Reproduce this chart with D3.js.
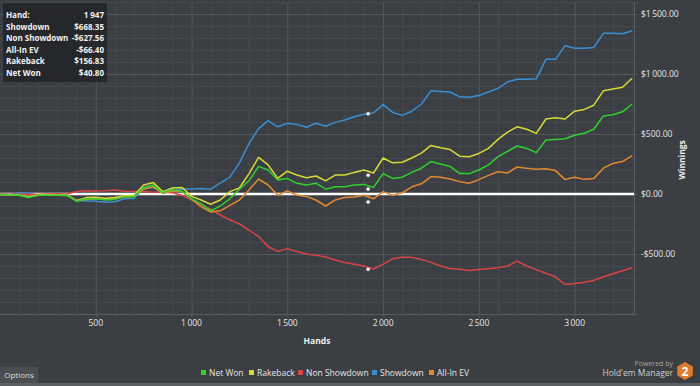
<!DOCTYPE html>
<html>
<head>
<meta charset="utf-8">
<script src="https://cdn.jsdelivr.net/npm/d3@7"></script>
<style>
  html, body { margin: 0; padding: 0; background: #3b3e42; }
  svg { display: block; font-family: 'Open Sans', sans-serif; }
</style>
</head>
<body>
<svg id="chart" width="700" height="386"></svg>
<script>
// DATA
var hands = [0, 50, 100, 150, 200, 250, 300, 350, 400, 450, 500, 550, 600, 650, 700, 750, 800, 850, 900, 950,
             1000, 1050, 1100, 1150, 1200, 1250, 1300, 1350, 1400, 1450, 1500, 1550, 1600, 1650, 1700, 1750, 1800, 1850, 1900, 1950,
             2000, 2050, 2100, 2150, 2200, 2250, 2300, 2350, 2400, 2450, 2500, 2550, 2600, 2650, 2700, 2750, 2800, 2850, 2900, 2950,
             3000, 3050, 3100, 3150, 3200, 3250, 3300];

var netWon = [-5, -8, -10, -30, -10, -10, -10, -12, -60, -40, -40, -50, -45, -22, -20, 55, 75, 10, 35, 25,
              -40, -80, -140, -100, -40, 40, 110, 230, 200, 117, 130, 89, 75, 90, 40, 61, 61, 75, 80, 55,
              170, 130, 140, 180, 215, 270, 250, 230, 170, 170, 200, 242, 311, 355, 400, 380, 345, 450, 455, 460,
              490, 506, 540, 650, 660, 685, 750];

var rakeback = [-5, -7, -8, -25, -8, -8, -8, -10, -55, -30, -28, -35, -30, -15, -10, 75, 95, 20, 50, 55,
                -20, -50, -85, -50, 20, 50, 170, 305, 242, 130, 190, 158, 135, 150, 110, 158, 158, 180, 200, 175,
                300, 260, 265, 300, 340, 405, 385, 370, 315, 310, 338, 380, 455, 515, 560, 540, 505, 625, 635, 625,
                690, 705, 740, 860, 875, 890, 965];

var nonShowdown = [0, -3, -2, -5, -3, 0, 2, 0, 20, 28, 25, 28, 33, 22, 20, 20, 15, 15, 10, -10,
                   -50, -95, -125, -175, -215, -250, -300, -355, -440, -478, -455, -480, -500, -510, -525, -550, -570, -585, -600, -625,
                   -585, -540, -528, -528, -545, -570, -600, -620, -628, -638, -630, -622, -615, -600, -560, -600, -630, -660, -690, -755,
                   -745, -735, -720, -690, -665, -640, -615];

var showdown = [0, -5, 8, 5, -8, -8, -8, -10, -55, -58, -60, -68, -65, -40, -35, 45, 55, 10, 35, 42,
                42, 45, 40, 90, 140, 260, 420, 545, 611, 560, 589, 580, 556, 590, 565, 597, 617, 644, 665, 675,
                745, 680, 655, 690, 750, 860, 855, 850, 810, 806, 820, 850, 880, 935, 956, 956, 960, 1122, 1122, 1235,
                1215, 1214, 1220, 1339, 1339, 1335, 1360];

var allInEV = [-5, -8, -10, -20, -10, -10, -10, -12, -55, -45, -40, -45, -40, -25, -20, 40, 60, 5, 25, 20,
               -40, -105, -150, -140, -95, -50, 33, 125, 75, -10, 25, -8, -20, -50, -100, -50, -30, -25, -10, -40,
               20, -10, 10, 60, 85, 145, 140, 125, 103, 90, 120, 155, 185, 175, 225, 214, 206, 210, 195, 120,
               140, 122, 130, 215, 255, 270, 320];

var seriesNames = ['Net Won', 'Rakeback', 'Non Showdown', 'Showdown', 'All-In EV'];
var seriesColors = ['#2fd12f', '#d9d936', '#d94545', '#3a8fd3', '#e3892f'];
var seriesValues = [netWon, rakeback, nonShowdown, showdown, allInEV];

// hover tooltip
var tipHand = '1 947';
var tipLabels = ['Showdown', 'Non Showdown', 'All-In EV', 'Rakeback', 'Net Won'];
var tipValues = [668.35, -627.56, -66.40, 156.83, 40.80];
var markerHand = 1922;

var xTicks = [500, 1000, 1500, 2000, 2500, 3000];
var yTicks = [-500, 0, 500, 1000, 1500];

//.................................................................................................................//
// SETUP
var svg = d3.select('#chart');
var plotLeft = 0, plotTop = 2, plotRight = 634, plotBottom = 314;

var x = d3.scaleLinear().domain([0, 3310]).range([plotLeft, plotRight]);
var y = d3.scaleLinear().domain([-1000, 1600]).range([plotBottom, plotTop]);

var fmtNum = function(v) { return d3.format(',')(v).replace(/,/g, '\u2009'); };
var fmtMoney = function(v) {
    var s = d3.format(',.2f')(Math.abs(v)).replace(/,/g, '\u2009');
    return (v < 0 ? '-$' : '$') + s;
};

//.................................................................................................................//
// GRID
function drawGrid() {
    var g = svg.append('g');
    var xMinor = d3.range(100, 3310, 100);
    var yMinor = d3.range(-1000, 1601, 100);
    g.selectAll('line.vx').data(xMinor).enter().append('line')
        .attr('x1', d => x(d) + 0.5).attr('x2', d => x(d) + 0.5)
        .attr('y1', plotTop).attr('y2', plotBottom + 3)
        .style('stroke', d => d % 500 === 0 ? '#54575c' : '#45484c')
        .style('stroke-width', 1);
    g.selectAll('line.hy').data(yMinor).enter().append('line')
        .attr('x1', plotLeft).attr('x2', plotRight + 4)
        .attr('y1', d => Math.round(y(d)) + 0.5).attr('y2', d => Math.round(y(d)) + 0.5)
        .style('stroke', d => d % 500 === 0 ? '#54575c' : '#45484c')
        .style('stroke-width', 1);
    // border
    g.append('line').attr('x1', plotRight + 0.5).attr('x2', plotRight + 0.5)
        .attr('y1', plotTop).attr('y2', plotBottom)
        .style('stroke', '#595c61');
    g.append('line').attr('x1', plotLeft).attr('x2', plotRight)
        .attr('y1', plotBottom + 0.5).attr('y2', plotBottom + 0.5)
        .style('stroke', '#595c61');
}

//.................................................................................................................//
// AXES
function drawAxes() {
    svg.append('g').selectAll('text').data(xTicks).enter().append('text')
        .attr('x', d => x(d))
        .attr('y', 326)
        .attr('text-anchor', 'middle')
        .style('font-size', '8.5px')
        .style('fill', '#e6e6e6')
        .text(d => fmtNum(d));
    svg.append('g').selectAll('text').data(yTicks).enter().append('text')
        .attr('x', 641)
        .attr('y', d => y(d) + 3)
        .style('font-size', '8.5px')
        .style('fill', '#e6e6e6')
        .text(d => fmtMoney(d));
    svg.append('text')
        .attr('x', x(1655)).attr('y', 344)
        .attr('text-anchor', 'middle')
        .style('font-size', '8.5px').style('font-weight', 'bold')
        .style('fill', '#f0f0f0')
        .text('Hands');
    svg.append('text')
        .attr('transform', 'translate(685,' + y(285) + ') rotate(-90)')
        .attr('text-anchor', 'middle')
        .style('font-size', '8.5px').style('font-weight', 'bold')
        .style('fill', '#f0f0f0')
        .text('Winnings');
}

//.................................................................................................................//
// LINES
function drawLines() {
    var line = d3.line()
        .x((d, i) => x(hands[i]))
        .y(d => y(d));
    // zero line
    svg.append('line')
        .attr('x1', plotLeft).attr('x2', plotRight)
        .attr('y1', y(0)).attr('y2', y(0))
        .style('stroke', '#ffffff').style('stroke-width', 2.5);
    // draw back to front: showdown, non showdown, all-in, rakeback, net won
    var order = [3, 2, 4, 1, 0];
    order.forEach(function(k) {
        svg.append('path')
            .datum(seriesValues[k])
            .attr('d', line)
            .style('fill', 'none')
            .style('stroke', seriesColors[k])
            .style('stroke-width', 1.5)
            .style('stroke-linejoin', 'round');
    });
    // hover markers
    svg.append('g').selectAll('circle').data(tipValues).enter().append('circle')
        .attr('cx', x(markerHand))
        .attr('cy', d => y(d))
        .attr('r', 1.8)
        .style('fill', '#ffffff')
        .style('stroke', '#999')
        .style('stroke-width', 0.5);
}

//.................................................................................................................//
// TOOLTIP
function drawTooltip() {
    var g = svg.append('g');
    g.append('rect')
        .attr('x', 3).attr('y', 3).attr('width', 104).attr('height', 79)
        .attr('rx', 1)
        .style('fill', '#222427').style('opacity', 0.88);
    var rows = [['Hand:', tipHand]].concat(tipLabels.map((l, i) => [l, fmtMoney(tipValues[i])]));
    rows.forEach(function(r, i) {
        g.append('text').attr('x', 6).attr('y', 18 + i * 11.6)
            .style('font-size', '8px').style('font-weight', 'bold').style('fill', '#f2f2f2')
            .text(r[0]);
        g.append('text').attr('x', 104).attr('y', 18 + i * 11.6)
            .attr('text-anchor', 'end')
            .style('font-size', '8px').style('font-weight', 'bold').style('fill', '#f2f2f2')
            .text(r[1]);
    });
}

//.................................................................................................................//
// LEGEND + FOOTER
function drawLegend() {
    var xs = [201, 249, 298, 372, 429];
    var g = svg.append('g');
    seriesNames.forEach(function(n, i) {
        g.append('rect')
            .attr('x', xs[i]).attr('y', 370).attr('width', 5).attr('height', 5)
            .style('fill', seriesColors[i]);
        g.append('text')
            .attr('x', xs[i] + 8).attr('y', 376)
            .style('font-size', '8.5px').style('fill', '#e6e6e6')
            .text(n);
    });
}

function drawFooter() {
    svg.append('rect').attr('x', 0).attr('y', 383).attr('width', 700).attr('height', 3)
        .style('fill', '#5b5e62');
    svg.append('rect').attr('x', 0).attr('y', 367).attr('width', 38).attr('height', 16)
        .style('fill', '#4a4d52');
    svg.append('text').attr('x', 19).attr('y', 378)
        .attr('text-anchor', 'middle')
        .style('font-size', '8px').style('fill', '#dddddd')
        .text('Options');
    svg.append('text').attr('x', 673).attr('y', 366)
        .attr('text-anchor', 'end')
        .style('font-size', '7px').style('fill', '#a9a9a9')
        .text('Powered by');
    svg.append('text').attr('x', 673).attr('y', 376)
        .attr('text-anchor', 'end')
        .style('font-size', '8.5px').style('fill', '#d0d0d0')
        .text("Hold'em Manager");
    var hex = d3.range(6).map(i => {
        var a = Math.PI / 3 * i + Math.PI / 6;
        return [685 + 9 * Math.cos(a), 371 + 9 * Math.sin(a)];
    });
    svg.append('polygon').attr('points', hex.map(p => p.join(',')).join(' '))
        .style('fill', '#e07a2c');
    svg.append('text').attr('x', 685).attr('y', 375.5)
        .attr('text-anchor', 'middle')
        .style('font-size', '12px').style('font-weight', 'bold').style('fill', '#ffffff')
        .text('2');
}

drawGrid();
drawLines();
drawAxes();
drawTooltip();
drawLegend();
drawFooter();
</script>
</body>
</html>
